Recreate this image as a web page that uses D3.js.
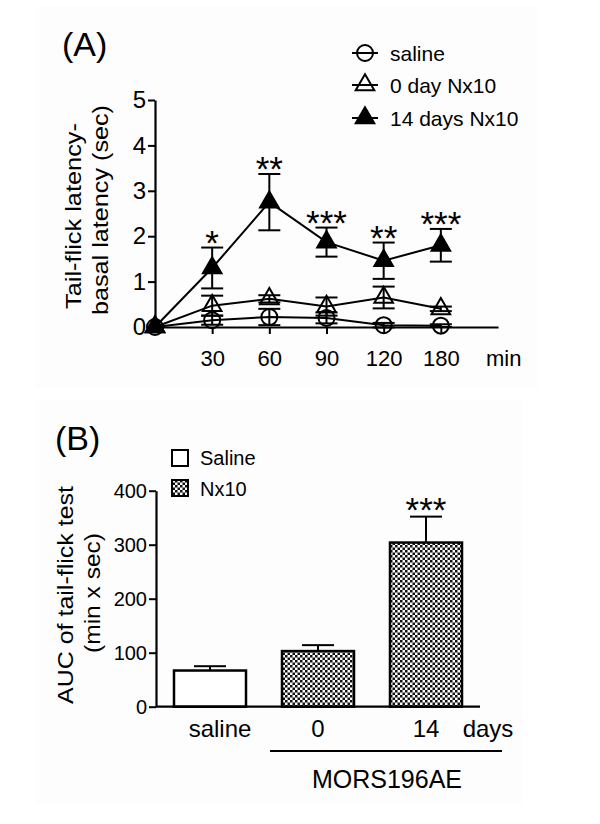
<!DOCTYPE html>
<html>
<head>
<meta charset="utf-8">
<script src="https://cdn.jsdelivr.net/npm/d3@7"></script>
<style>
  html, body { margin: 0; padding: 0; background: #ffffff; }
  svg { display: block; }
  text { font-family: "Liberation Sans", Arial, Helvetica, sans-serif; fill: #000; }
</style>
</head>
<body>
<svg id="chart" width="600" height="824"></svg>
<script>
// ---------- Panel A data ----------
const timeLabels = ["0", "30", "60", "90", "120", "180"];
const salineMean = [0, 0.15, 0.22, 0.20, 0.04, 0.03];
const salineSem  = [0, 0.10, 0.18, 0.12, 0.05, 0.03];
const day0Mean   = [0, 0.47, 0.62, 0.45, 0.65, 0.40];
const day0Sem    = [0, 0.22, 0.08, 0.20, 0.24, 0.05];
const day14Mean  = [0, 1.30, 2.75, 1.87, 1.46, 1.80];
const day14Sem   = [0, 0.45, 0.62, 0.32, 0.40, 0.36];
const sigA       = ["", "*", "**", "***", "**", "***"];
const yTicksA    = [0, 1, 2, 3, 4, 5];
const legendA    = ["saline", "0 day Nx10", "14 days Nx10"];

// ---------- Panel B data ----------
const groupsB   = ["saline", "0", "14"];
const aucMean   = [67, 103, 304];
const aucSem    = [8, 11, 48];
const sigB      = ["", "", "***"];
const yTicksB   = [0, 100, 200, 300, 400];
const legendB   = ["Saline", "Nx10"];

const svg = d3.select("#chart");

// faint panel backgrounds
svg.append("rect").attr("x", 36).attr("y", 6).attr("width", 502).attr("height", 383).attr("fill", "#fdfdfd");
svg.append("rect").attr("x", 36).attr("y", 400).attr("width", 487).attr("height", 403).attr("fill", "#fdfdfd");

// checker pattern
const defs = svg.append("defs");
const pat = defs.append("pattern").attr("id", "checker").attr("patternUnits", "userSpaceOnUse")
  .attr("width", 5).attr("height", 5);
pat.append("rect").attr("width", 5).attr("height", 5).attr("fill", "#fff");
pat.append("rect").attr("x", 0).attr("y", 0).attr("width", 2.5).attr("height", 2.5).attr("fill", "#111");
pat.append("rect").attr("x", 2.5).attr("y", 2.5).attr("width", 2.5).attr("height", 2.5).attr("fill", "#111");

// =================== PANEL A ===================
const xA = d3.scaleLinear().domain([0, 6]).range([155, 498]);
const yA = d3.scaleLinear().domain([0, 5]).range([327, 100]);

svg.append("text").attr("x", 62).attr("y", 56).attr("font-size", 34).text("(A)");

// y label
const yl1 = svg.append("g").attr("transform", "translate(81,216) rotate(-90)");
yl1.append("text").attr("text-anchor", "middle").attr("font-size", 22)
  .attr("textLength", 186).attr("lengthAdjust", "spacingAndGlyphs").text("Tail-flick latency-");
const yl2 = svg.append("g").attr("transform", "translate(108,210) rotate(-90)");
yl2.append("text").attr("text-anchor", "middle").attr("font-size", 22)
  .attr("textLength", 210).attr("lengthAdjust", "spacingAndGlyphs").text("basal latency (sec)");

// y axis
const yAxisA = svg.append("g").attr("transform", "translate(155,0)")
  .call(d3.axisLeft(yA).tickValues(yTicksA).tickSize(7).tickSizeOuter(0).tickPadding(2).tickFormat(d3.format("d")));
yAxisA.select(".domain").attr("stroke", "#000").attr("stroke-width", 2.2);
yAxisA.selectAll(".tick line").attr("stroke", "#000").attr("stroke-width", 2);
yAxisA.selectAll(".tick text").attr("font-size", 24).attr("font-family", "Liberation Sans, Arial, sans-serif").attr("fill", "#000");

// x axis (categorical time points, equally spaced)
const xIdx = d3.range(1, timeLabels.length);
const xAxisA = svg.append("g").attr("transform", "translate(0,327)")
  .call(d3.axisBottom(xA).tickValues(xIdx).tickSize(7).tickSizeOuter(0).tickPadding(16).tickFormat(i => timeLabels[i]));
xAxisA.select(".domain").attr("stroke", "#000").attr("stroke-width", 2.2);
xAxisA.selectAll(".tick line").attr("stroke", "#000").attr("stroke-width", 2);
xAxisA.selectAll(".tick text").attr("font-size", 22).attr("font-family", "Liberation Sans, Arial, sans-serif").attr("fill", "#000");
svg.append("text").attr("x", xA(6.1)).attr("y", 366).attr("text-anchor", "middle").attr("font-size", 22).text("min");

const seriesA = [
  { mean: salineMean, sem: salineSem, sym: "circle" },
  { mean: day0Mean,   sem: day0Sem,   sym: "open" },
  { mean: day14Mean,  sem: day14Sem,  sym: "filled" }
];
const line = d3.line().x((d, i) => xA(i)).y(d => yA(d));
const gA = svg.append("g");
seriesA.forEach(s => {
  gA.append("path").attr("d", line(s.mean)).attr("fill", "none").attr("stroke", "#000").attr("stroke-width", 2);
});
// error bars
seriesA.forEach(s => {
  s.mean.forEach((m, i) => {
    if (s.sem[i] <= 0) return;
    const x = xA(i), y1 = yA(m + s.sem[i]), y2 = yA(m - s.sem[i]);
    gA.append("line").attr("x1", x).attr("x2", x).attr("y1", y1).attr("y2", y2).attr("stroke", "#000").attr("stroke-width", 2);
    [y1, y2].forEach(yy => gA.append("line").attr("x1", x - 11).attr("x2", x + 11).attr("y1", yy).attr("y2", yy)
      .attr("stroke", "#000").attr("stroke-width", 2));
  });
});
function marker(g, kind, x, y) {
  if (kind === "circle") {
    g.append("circle").attr("cx", x).attr("cy", y).attr("r", 8).attr("fill", "none").attr("stroke", "#000").attr("stroke-width", 2);
  } else {
    g.append("path").attr("d", d3.symbol(d3.symbolTriangle, 150)())
      .attr("transform", `translate(${x},${y})`)
      .attr("fill", kind === "filled" ? "#000" : "none").attr("stroke", "#000").attr("stroke-width", 2);
  }
}
seriesA.forEach(s => s.mean.forEach((m, i) => marker(gA, s.sym, xA(i), yA(m))));

// significance
sigA.forEach((t, i) => {
  if (!t) return;
  svg.append("text").attr("x", xA(i)).attr("y", yA(day14Mean[i] + day14Sem[i]) + 7)
    .attr("text-anchor", "middle").attr("font-size", 35).text(t);
});

// legend A
const legYA = [53, 85, 118];
const legSym = ["circle", "open", "filled"];
legendA.forEach((t, k) => {
  const y = legYA[k];
  svg.append("line").attr("x1", 352).attr("x2", 378).attr("y1", y).attr("y2", y).attr("stroke", "#000").attr("stroke-width", 2);
  marker(svg, legSym[k], 365, y);
  svg.append("text").attr("x", 390).attr("y", y).attr("dy", "0.36em").attr("font-size", 21).text(t);
});

// =================== PANEL B ===================
const xB = d3.scaleBand().domain(groupsB).range([156, 480]).paddingInner(1 / 3).paddingOuter(1 / 6);
const yB = d3.scaleLinear().domain([0, 400]).range([706.7, 490.7]);

svg.append("text").attr("x", 55).attr("y", 450).attr("font-size", 34).text("(B)");

const bl1 = svg.append("g").attr("transform", "translate(73,595) rotate(-90)");
bl1.append("text").attr("text-anchor", "middle").attr("font-size", 22)
  .attr("textLength", 218).attr("lengthAdjust", "spacingAndGlyphs").text("AUC of tail-flick test");
const bl2 = svg.append("g").attr("transform", "translate(100,593) rotate(-90)");
bl2.append("text").attr("text-anchor", "middle").attr("font-size", 22)
  .attr("textLength", 120).attr("lengthAdjust", "spacingAndGlyphs").text("(min x sec)");

const gB = svg.append("g");
groupsB.forEach((g, i) => {
  const x = xB(g), w = xB.bandwidth(), cx = x + w / 2;
  const top = yB(aucMean[i]), etop = yB(aucMean[i] + aucSem[i]);
  gB.append("line").attr("x1", cx).attr("x2", cx).attr("y1", top).attr("y2", etop).attr("stroke", "#000").attr("stroke-width", 2);
  gB.append("line").attr("x1", cx - 16).attr("x2", cx + 16).attr("y1", etop).attr("y2", etop).attr("stroke", "#000").attr("stroke-width", 2);
  gB.append("rect").attr("x", x).attr("y", top).attr("width", w).attr("height", yB(0) - top)
    .attr("fill", i === 0 ? "#fff" : "url(#checker)").attr("stroke", "#000").attr("stroke-width", 2.5);
  if (sigB[i]) {
    svg.append("text").attr("x", cx).attr("y", etop + 5).attr("text-anchor", "middle")
      .attr("font-size", 35).text(sigB[i]);
  }
});

const yAxisB = svg.append("g").attr("transform", "translate(156,0)")
  .call(d3.axisLeft(yB).tickValues(yTicksB).tickSize(7).tickSizeOuter(0).tickPadding(2));
yAxisB.select(".domain").attr("stroke", "#000").attr("stroke-width", 2.2);
yAxisB.selectAll(".tick line").attr("stroke", "#000").attr("stroke-width", 2);
yAxisB.selectAll(".tick text").attr("font-size", 20).attr("font-family", "Liberation Sans, Arial, sans-serif").attr("fill", "#000");

svg.append("line").attr("x1", 156).attr("x2", 480).attr("y1", yB(0)).attr("y2", yB(0)).attr("stroke", "#000").attr("stroke-width", 2.2);

// x labels
const xLabelB = ["saline", "0", "14"];
groupsB.forEach((g, i) => {
  svg.append("text").attr("x", xB(g) + xB.bandwidth() / 2 + (i === 0 ? 10 : 0)).attr("y", 737)
    .attr("text-anchor", "middle").attr("font-size", 24).text(xLabelB[i]);
});
svg.append("text").attr("x", 488).attr("y", 737).attr("text-anchor", "middle").attr("font-size", 24).text("days");
svg.append("line").attr("x1", 270).attr("x2", 502).attr("y1", 751).attr("y2", 751).attr("stroke", "#000").attr("stroke-width", 2);
svg.append("text").attr("x", 387).attr("y", 788).attr("text-anchor", "middle").attr("font-size", 25).text("MORS196AE");

// legend B
svg.append("rect").attr("x", 172).attr("y", 450).attr("width", 16).attr("height", 16).attr("fill", "#fff").attr("stroke", "#000").attr("stroke-width", 2);
svg.append("text").attr("x", 200).attr("y", 465).attr("font-size", 20).text(legendB[0]);
svg.append("rect").attr("x", 172).attr("y", 480).attr("width", 16).attr("height", 16).attr("fill", "url(#checker)").attr("stroke", "#000").attr("stroke-width", 2);
svg.append("text").attr("x", 200).attr("y", 496).attr("font-size", 20).text(legendB[1]);
</script>
</body>
</html>
